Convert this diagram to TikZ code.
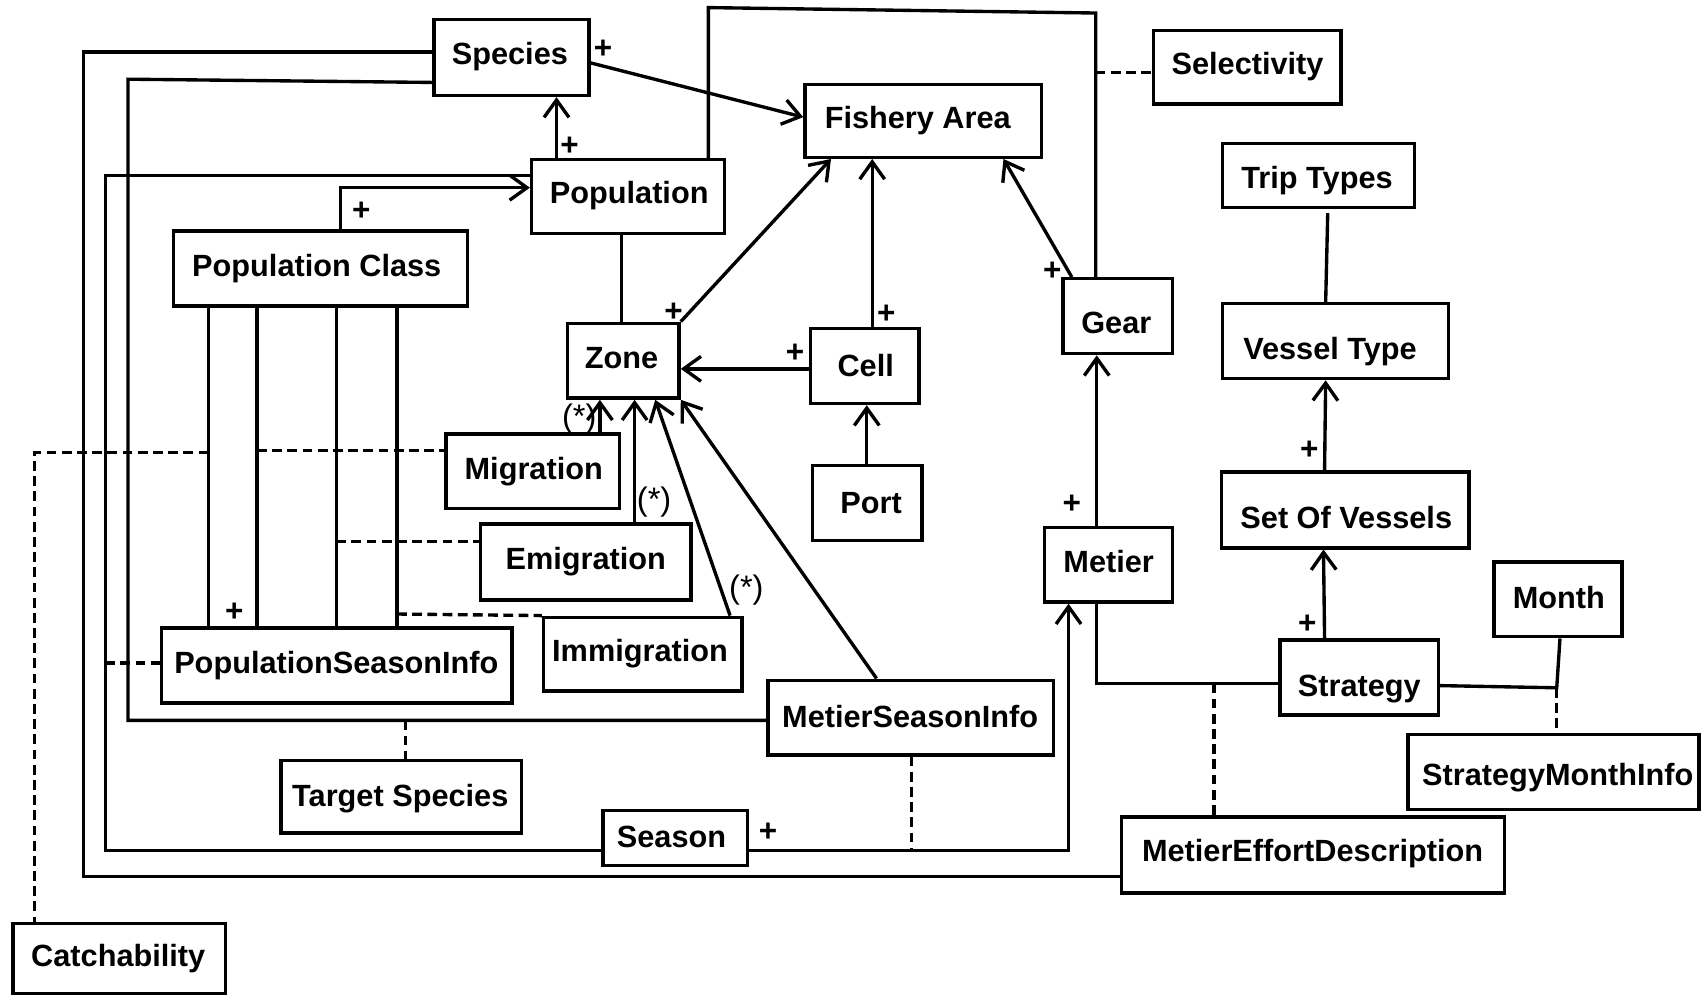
\documentclass[tikz,border=0pt]{standalone}
\usepackage{fontspec}
\setmainfont{Liberation Sans}
\usetikzlibrary{arrows.meta}
% box: name, x1, y1, x2, y2, text centre x, text baseline y, text
\newcommand{\umlbox}[8]{%
  \pgfmathsetmacro{\ubcx}{(#2+#4)/2}%
  \pgfmathsetmacro{\ubcy}{(#3+#5)/2}%
  \pgfmathsetmacro{\ubw}{#4-#2}%
  \pgfmathsetmacro{\ubh}{#5-#3}%
  \pgfmathsetmacro{\ubdx}{2*(#6-\ubcx)}%
  \pgfmathsetmacro{\ubdy}{#7-\ubcy}%
  \node[umlbox, minimum width=\ubw pt, minimum height=\ubh pt] (#1) at (\ubcx,\ubcy)
    {\makebox[0pt][c]{\hspace*{\ubdx pt}\raisebox{-\ubdy pt}[0pt][0pt]{#8}}};%
}
\begin{document}
\begin{tikzpicture}[x=1pt,y=-1pt,
  umlbox/.style={draw, line width=3.1pt, rectangle, inner sep=0pt,
    font=\fontsize{28.3}{34}\selectfont\bfseries},
  conn/.style={line width=3.1pt, line join=miter},
  arr/.style={conn, -{Straight Barb[length=16pt,width=23pt]}},
  assoc/.style={line width=3.1pt, dash pattern=on 9pt off 5pt},
  plus/.style={inner sep=0pt, font=\fontsize{29}{30}\selectfont\bfseries},
  mult/.style={inner sep=0pt, font=\fontsize{30}{32}\selectfont}]
\useasboundingbox (0,0) rectangle (1568,918);

% ---------------- boxes ----------------
\umlbox{species}{400}{18}{543}{88}{470}{59}{Species}
\umlbox{fishery}{742}{78}{960}{145}{846}{118}{Fishery Area}
\umlbox{selectivity}{1063}{28}{1236}{96}{1150}{69}{Selectivity}
\umlbox{triptypes}{1127}{132}{1304}{191}{1214}{174}{Trip Types}
\umlbox{population}{490}{147}{668}{215}{580}{188}{Population}
\umlbox{popclass}{160}{213}{431}{282}{292}{255}{Population Class}
\umlbox{zone}{523}{298}{626}{367}{573}{340}{Zone}
\umlbox{cell}{747}{303}{847}{372}{798}{347}{Cell}
\umlbox{gear}{980}{257}{1081}{326}{1029}{307}{Gear}
\umlbox{vesseltype}{1127}{280}{1335}{349}{1226}{331}{Vessel Type}
\umlbox{migration}{411}{400}{571}{469}{492}{442}{Migration}
\umlbox{port}{749}{429}{850}{498}{803}{473}{Port}
\umlbox{emigration}{443}{483}{637}{553}{540}{525}{Emigration}
\umlbox{setvessels}{1126}{435}{1354}{505}{1241}{487}{Set Of Vessels}
\umlbox{metier}{963}{486}{1081}{555}{1022}{528}{Metier}
\umlbox{month}{1377}{518}{1495}{587}{1437}{561}{Month}
\umlbox{immigration}{501}{569}{684}{637}{590}{610}{Immigration}
\umlbox{psi}{149}{579}{472}{648}{310}{621}{PopulationSeasonInfo}
\umlbox{strategy}{1180}{590}{1326}{659}{1253}{642}{Strategy}
\umlbox{msi}{708}{627}{971}{696}{839}{671}{MetierSeasonInfo}
\umlbox{smi}{1298}{677}{1566}{746}{1436}{724}{StrategyMonthInfo}
\umlbox{targetspecies}{259}{701}{481}{768}{369}{743}{Target Species}
\umlbox{season}{556}{747}{689}{798}{619}{781}{Season}
\umlbox{med}{1034}{753}{1387}{823}{1210}{794}{MetierEffortDescription}
\umlbox{catchability}{12}{851}{208}{916}{109}{891}{Catchability}

% ---------------- junction points ----------------
\coordinate (jsel) at (1010,67);
\coordinate (jts) at (374,664);
\coordinate (jpsi) at (97,611);
\coordinate (jmed) at (1119,630);
\coordinate (jmonth) at (1435,634);
\coordinate (jmsi) at (840,784);
\coordinate (jcat) at (192,417);
\coordinate (jmig) at (237,415);
\coordinate (jemi) at (310,499);
\coordinate (jimm) at (366,566);

% ---------------- solid associations ----------------
\draw[arr] (species.east |- 0,58) -- (fishery.west |- 0,108);
\draw[arr] (513,0 |- population.north) -- (513,0 |- species.south);
\draw[conn] (653,0 |- population.north) -- (653,7) -- (1010,12) -- (1010,0 |- gear.north);
\draw[conn] (species.west |- 0,48) -- (77,48) -- (77,808) -- (med.west |- 0,808);
\draw[conn] (species.west |- 0,76) -- (118,73) -- (118,664) -- (msi.west |- 0,664);
\draw[conn] (population.west |- 0,162) -- (97,162) -- (97,784) -- (season.west |- 0,784);
\draw[arr] (314,0 |- popclass.north) -- (314,173) -- (population.west |- 0,173);
\draw[conn] (573,0 |- population.south) -- (573,0 |- zone.north);
\draw[arr] (zone.north east) -- (766,0 |- fishery.south);
\draw[arr] (804,0 |- cell.north) -- (804,0 |- fishery.south);
\draw[arr] (988,0 |- gear.north) -- (925,0 |- fishery.south);
\draw[arr] (cell.west |- 0,340) -- (zone.east |- 0,340);
\draw[arr] (799,0 |- port.north) -- (799,0 |- cell.south);
\draw[arr] (1011,0 |- metier.north) -- (1011,0 |- gear.south);
\draw[conn, shorten <=4pt] (1224,0 |- triptypes.south) -- (1222,0 |- vesseltype.north);
\draw[arr] (1221,0 |- setvessels.north) -- (1222,0 |- vesseltype.south);
\draw[arr] (1221,0 |- strategy.north) -- (1220,0 |- setvessels.south);
\draw[conn] (1011,0 |- metier.south) -- (1011,630) -- (strategy.west |- 0,630);
\draw[conn] (strategy.east |- 0,632) -- (jmonth) -- (1438,0 |- month.south);
\draw[arr] (season.east |- 0,784) -- (985,784) -- (985,0 |- metier.south);
\draw[arr] (808,0 |- msi.north) -- (zone.south east);
\draw[arr] (673,0 |- immigration.north) -- (604,0 |- zone.south);
\draw[arr] (585,0 |- emigration.north) -- (585,0 |- zone.south);
\draw[arr] (553,0 |- migration.north) -- (553,0 |- zone.south);
\foreach \xx in {192,237,310,366}
  \draw[conn] (\xx,0 |- popclass.south) -- (\xx,0 |- psi.north);

% ---------------- association classes (dashed) ----------------
\draw[assoc] (jsel) -- (selectivity.west |- jsel);
\draw[assoc] (jts) -- (targetspecies.north -| jts);
\draw[assoc] (jpsi) -- (psi.west |- jpsi);
\draw[assoc] (jmed) -- (med.north -| jmed);
\draw[assoc] (jmonth) -- (smi.north -| jmonth);
\draw[assoc] (msi.south -| jmsi) -- (jmsi);
\draw[assoc] (jcat) -- (32,417) -- (catchability.north -| 32,0);
\draw[assoc] (jmig) -- (migration.west |- jmig);
\draw[assoc] (jemi) -- (emigration.west |- jemi);
\draw[assoc] (jimm) -- (immigration.north west);

% ---------------- multiplicity labels ----------------
\node[plus] (pl1) at (556,45) {+};
\node[plus] (pl2) at (525,135) {+};
\node[plus] (pl3) at (333,195) {+};
\node[plus] (pl4) at (621,288) {+};
\node[plus] (pl5) at (817,290) {+};
\node[plus] (pl6) at (970,250) {+};
\node[plus] (pl7) at (733,326) {+};
\node[plus] (pl8) at (988,465) {+};
\node[plus] (pl9) at (1207,415) {+};
\node[plus] (pl10) at (1205,575) {+};
\node[plus] (pl11) at (216,564) {+};
\node[plus] (pl12) at (708,767) {+};
\node[mult] (st1) at (534,386) {(*)};
\node[mult] (st2) at (603,463) {(*)};
\node[mult] (st3) at (688,544) {(*)};
\end{tikzpicture}
\end{document}
